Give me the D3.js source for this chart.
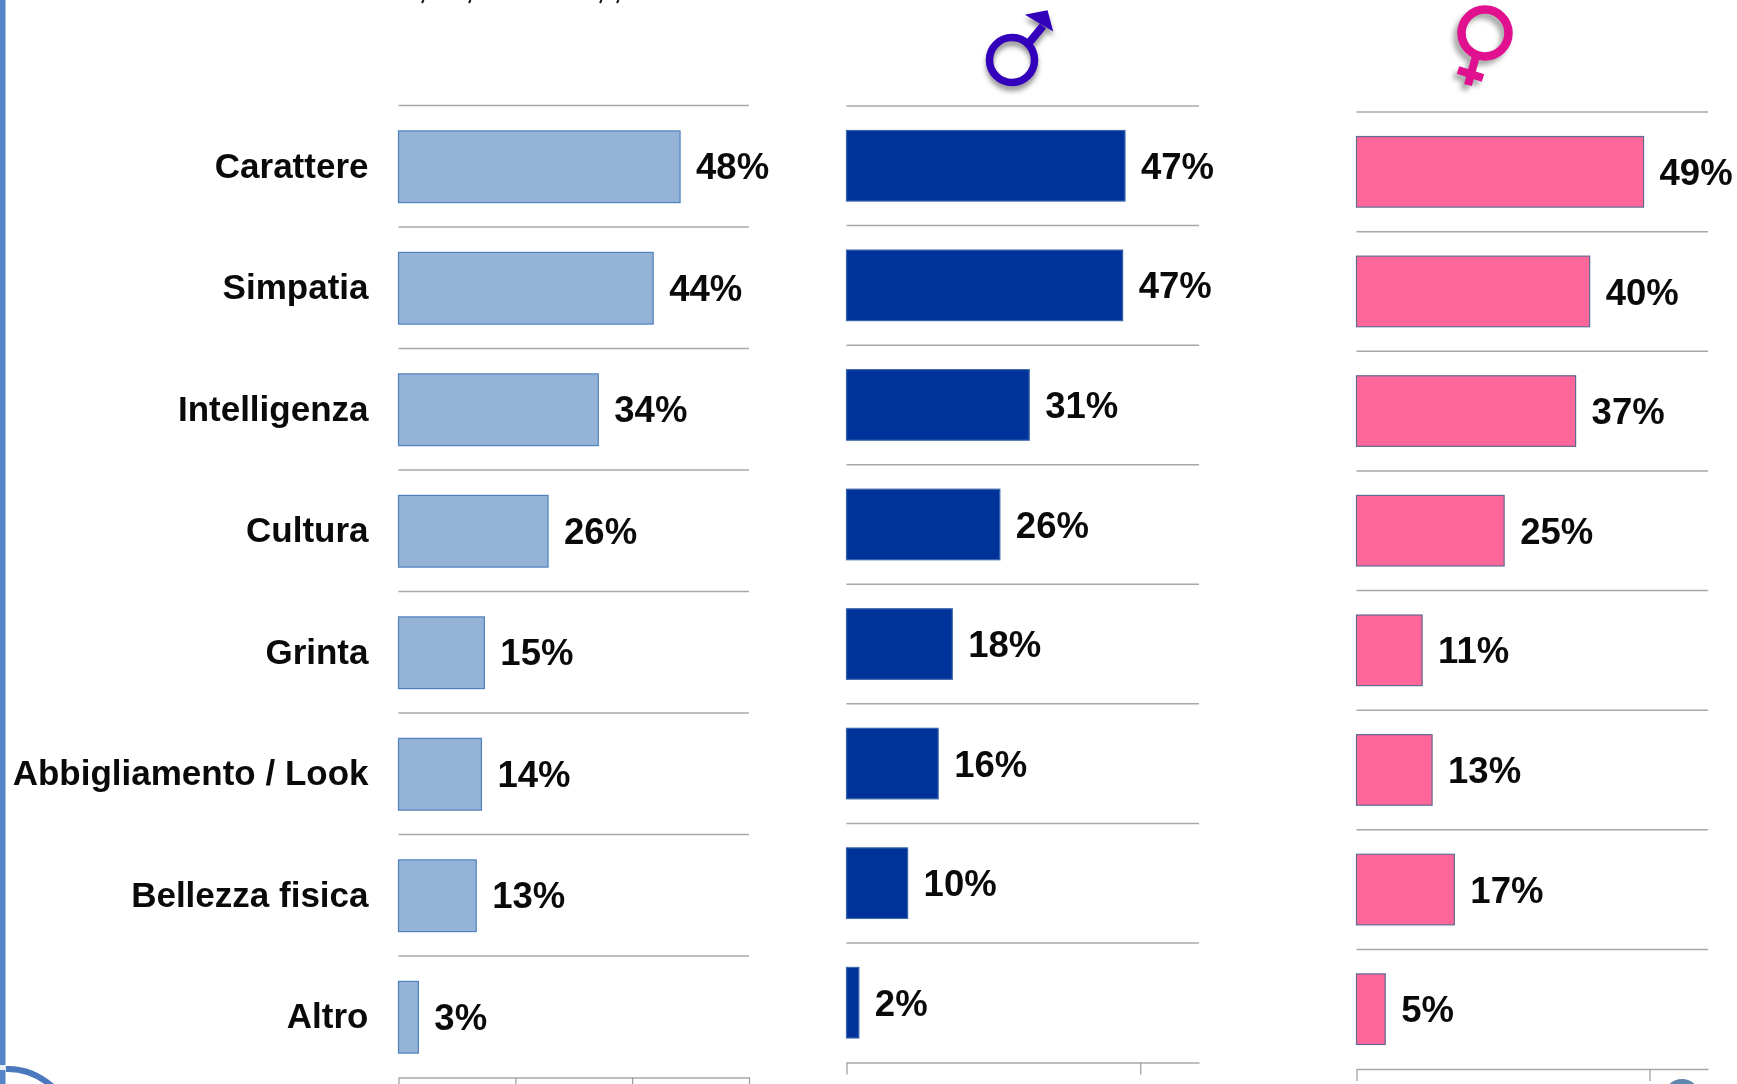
<!DOCTYPE html>
<html><head><meta charset="utf-8">
<script src="https://cdn.jsdelivr.net/npm/d3@7/dist/d3.min.js"></script>
<style>html,body{margin:0;padding:0;background:#fff}svg{display:block;filter:blur(0.45px)}
text{font-family:"Liberation Sans",Arial,sans-serif;font-weight:700;fill:#0a0a0a}</style>
</head><body>
<svg id="c" width="1737" height="1084"></svg>
<script>
const categories = ["Carattere","Simpatia","Intelligenza","Cultura","Grinta","Abbigliamento / Look","Bellezza fisica","Altro"];
const totalValues = [48.2,43.6,34.2,25.6,14.7,14.2,13.3,3.4];
const totalLabels = ["48%","44%","34%","26%","15%","14%","13%","3%"];
const maleValues = [47.4,47.0,31.1,26.1,18.0,15.6,10.4,2.1];
const maleLabels = ["47%","47%","31%","26%","18%","16%","10%","2%"];
const femaleValues = [49.0,39.8,37.4,25.2,11.2,12.9,16.7,4.9];
const femaleLabels = ["49%","40%","37%","25%","11%","13%","17%","5%"];
const xDomain = [0,60];
const totalTicks = [0,20,40,60];
const genderTicks = [0,50];

const svg = d3.select("#c");
const defs = svg.append("defs");
const f = defs.append("filter").attr("id","sh").attr("x","-30%").attr("y","-30%").attr("width","160%").attr("height","160%");
f.append("feGaussianBlur").attr("stdDeviation",2.5);

function panel(o){
  const x = d3.scaleLinear().domain(xDomain).range([o.x0,o.x1]);
  const y = d3.scaleBand().domain(categories).range([o.top,o.bottom]).paddingInner(0.41).paddingOuter(0.205);
  const g = svg.append("g");
  const step = y.step();
  // separators between the categories
  g.selectAll("line.sep").data(categories).join("line").attr("class","sep")
    .attr("x1",o.x0).attr("x2",o.x1)
    .attr("y1",d=>y(d)-step*0.205).attr("y2",d=>y(d)-step*0.205)
    .attr("stroke","#a8a8a8").attr("stroke-width",1.5);
  // value axis (its labels fall outside the picture)
  const ax = g.append("g").attr("transform",`translate(0,${o.bottom})`)
    .call(d3.axisBottom(x).tickValues(o.ticks).tickFormat("").tickSize(o.tick).tickSizeOuter(0));
  ax.select(".domain").attr("stroke","#a8a8a8").attr("stroke-width",1.5);
  ax.selectAll(".tick line").attr("stroke","#9a9a9a").attr("stroke-width",1.2);
  // bars
  g.selectAll("rect").data(o.values).join("rect")
    .attr("x",x(0)).attr("y",(d,i)=>y(categories[i])+o.shift)
    .attr("width",d=>x(d)-x(0)).attr("height",y.bandwidth())
    .attr("fill",o.fill).attr("stroke",o.stroke).attr("stroke-width",1.2);
  // value labels
  g.selectAll("text.v").data(o.values).join("text").attr("class","v")
    .attr("x",d=>x(d)+16).attr("y",(d,i)=>y(categories[i])+y.bandwidth()/2)
    .attr("dy","0.36em").attr("font-size",36.5).text((d,i)=>o.labels[i]);
  if(o.cats){
    g.selectAll("text.c").data(categories).join("text").attr("class","c")
      .attr("x",o.x0-30).attr("y",d=>y(d)+y.bandwidth()/2-1)
      .attr("dy","0.36em").attr("text-anchor","end").attr("font-size",35).text(d=>d);
  }
}
panel({x0:398.5,x1:749,top:105.5,bottom:1077.5,shift:0.5,values:totalValues,labels:totalLabels,ticks:totalTicks,tick:20,fill:"#95b3d7",stroke:"#4f81bd",cats:true});
panel({x0:846.5,x1:1199,top:106,bottom:1062.5,shift:0,values:maleValues,labels:maleLabels,ticks:genderTicks,tick:12,fill:"#003399",stroke:"#3a66ad"});
panel({x0:1356.5,x1:1708,top:112,bottom:1069,shift:0,values:femaleValues,labels:femaleLabels,ticks:genderTicks,tick:12,fill:"#ff6699",stroke:"#5f6b90"});

// left band and logo fragments
svg.append("rect").attr("x",0).attr("y",0).attr("width",5.5).attr("height",1084).attr("fill","#5585c6");
svg.append("rect").attr("x",0).attr("y",1065).attr("width",6).attr("height",5).attr("fill","#e6eef8");
svg.append("path").attr("d","M6,1069 Q32,1068 54,1088").attr("fill","none").attr("stroke","#4a78bd").attr("stroke-width",6);
svg.append("circle").attr("cx",1682).attr("cy",1097).attr("r",15).attr("fill","#cfdbe6").attr("stroke","#5f86ad").attr("stroke-width",6);

// clipped descenders of the cut-off heading
[422,469,600,617].forEach(px=>svg.append("line").attr("x1",px+1.5).attr("x2",px).attr("y1",0).attr("y2",3).attr("stroke","#111").attr("stroke-width",2));

// gender symbols
function male(col,parent,dx,dy){
  const g=parent.append("g").attr("transform",`translate(${dx},${dy})`);
  g.append("circle").attr("cx",1012).attr("cy",60).attr("r",22.5).attr("fill","none").attr("stroke",col).attr("stroke-width",7.5);
  g.append("line").attr("x1",1028).attr("y1",44).attr("x2",1043).attr("y2",26).attr("stroke",col).attr("stroke-width",8);
  g.append("path").attr("d","M1027,15 L1047,11 L1052,30 Z").attr("fill",col).attr("stroke",col).attr("stroke-width",1.5);
  return g;
}
function female(col,parent,dx,dy){
  const g=parent.append("g").attr("transform",`translate(${dx},${dy})`);
  g.append("circle").attr("cx",1485).attr("cy",33).attr("r",23.5).attr("fill","none").attr("stroke",col).attr("stroke-width",8.5);
  g.append("line").attr("x1",1476).attr("y1",56).attr("x2",1468).attr("y2",85).attr("stroke",col).attr("stroke-width",8);
  g.append("line").attr("x1",1458).attr("y1",70).attr("x2",1483).attr("y2",78).attr("stroke",col).attr("stroke-width",8);
  return g;
}
male("#999",svg,0,5).attr("filter","url(#sh)");
male("#3300bb",svg,0,0);
female("#aaa",svg,-4,5).attr("filter","url(#sh)");
female("#e0108f",svg,0,0);
</script>
</body></html>
